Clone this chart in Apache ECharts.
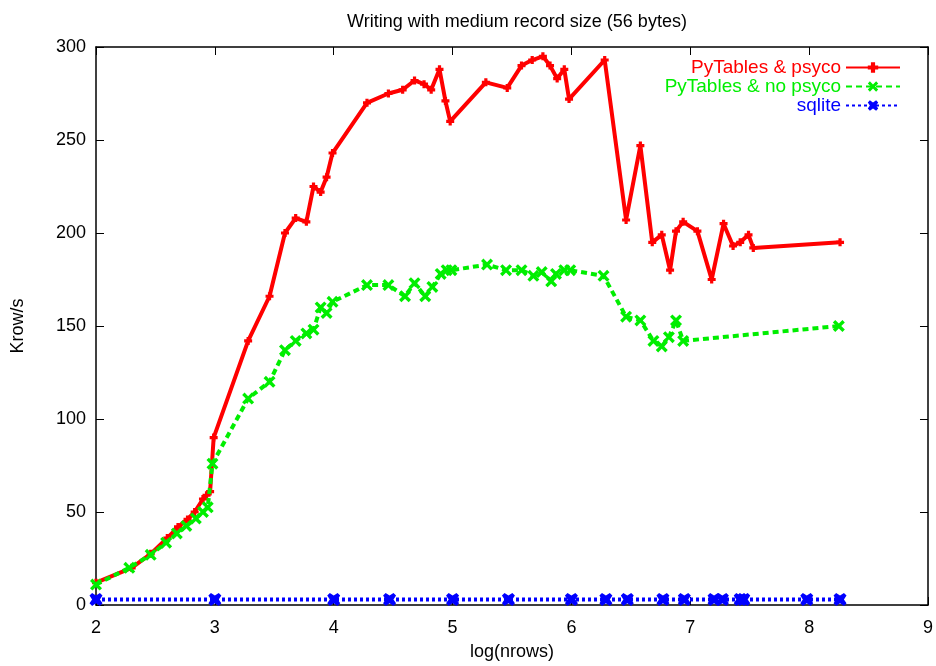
<!DOCTYPE html>
<html>
<head>
<meta charset="utf-8">
<script src="https://cdn.jsdelivr.net/npm/echarts@6/dist/echarts.min.js"></script>
<style>
  html, body { margin: 0; padding: 0; background: #fff; }
  #main { width: 936px; height: 666px; }
</style>
</head>
<body>
<div id="main"></div>
<script>
// log(nrows) / Krow/s
var psycoX = [2.0, 2.3, 2.46, 2.6, 2.69, 2.77, 2.83, 2.9, 2.93, 2.96, 2.99, 3.28, 3.46, 3.59, 3.68, 3.77, 3.83, 3.89, 3.94, 3.99,
  4.28, 4.46, 4.58, 4.68, 4.76, 4.82, 4.89, 4.94, 4.98, 5.28, 5.46, 5.58, 5.67, 5.76, 5.82, 5.88, 5.94, 5.98, 6.28,
  6.46, 6.58, 6.68, 6.76, 6.83, 6.88, 6.94, 7.06, 7.18, 7.28, 7.36, 7.42, 7.49, 7.53, 8.26]
var psycoY = [12, 20, 27.5, 36, 42, 46, 50, 57, 59, 61, 90, 142, 166, 200, 208, 206, 225, 222, 230, 243,
  270, 275, 277, 282, 280, 277, 288, 271, 260, 281, 278, 290, 293, 295, 290, 283, 288, 272, 293,
  207, 247, 195, 199, 180, 201, 206, 201, 175, 205, 193, 195, 199, 192, 195]

var noPsycoX = [2.0, 2.28, 2.46, 2.59, 2.68, 2.76, 2.84, 2.9, 2.94, 2.98, 3.28, 3.46, 3.59, 3.68, 3.77, 3.83, 3.89, 3.94, 3.99,
  4.28, 4.46, 4.6, 4.68, 4.77, 4.83, 4.9, 4.95, 4.99, 5.29, 5.45, 5.58, 5.68, 5.75, 5.83, 5.87, 5.94, 5.99, 6.27,
  6.46, 6.58, 6.69, 6.76, 6.82, 6.88, 6.94, 8.25]
var noPsycoY = [11, 20, 27, 33.5, 38.5, 42.5, 46.5, 50, 52.5, 76, 111, 120, 137, 142, 146, 148, 160, 157, 163,
  172, 172, 166, 173, 166, 171, 178, 180, 180, 183, 180, 180, 177, 179, 174, 178, 180, 180, 177,
  155, 153, 142, 139, 144, 153, 142, 150]

var sqliteX = [2.0, 3.0, 4.0, 4.47, 5.0, 5.47, 6.0, 6.29, 6.47, 6.77, 6.95, 7.2, 7.27, 7.42, 7.45, 7.98, 8.26]
var sqliteY = [3, 3, 3, 3, 3, 3, 3, 3, 3, 3, 3, 3, 3, 3, 3, 3, 3]

function pairs(xs, ys) {
  var out = []
  for (var i = 0; i < xs.length; i++) out.push([xs[i], ys[i]])
  return out
}

var FONT = 'Liberation Sans'
var plusPath = 'path://M3,0 L7,0 L7,3 L10,3 L10,7 L7,7 L7,10 L3,10 L3,7 L0,7 L0,3 L3,3 Z'
var xPath = 'path://M2,0 L5,3 L8,0 L10,2 L7,5 L10,8 L8,10 L5,7 L2,10 L0,8 L3,5 L0,2 Z'
var fatXPath = 'path://M2,0 L5,2 L8,0 L10,2 L8,5 L10,8 L8,10 L5,8 L2,10 L0,8 L2,5 L0,2 Z'

var chart = echarts.init(document.getElementById('main'))
var option = {
  backgroundColor: '#fff',
  animation: false,
  textStyle: { fontFamily: FONT },
  title: {
    text: 'Writing with medium record size (56 bytes)',
    left: 512,
    textAlign: 'center',
    top: 8,
    textStyle: { fontFamily: FONT, fontWeight: 'normal', fontSize: 18, color: '#000' }
  },
  legend: {
    orient: 'vertical',
    right: 30,
    top: 53,
    align: 'right',
    itemWidth: 54,
    itemHeight: 13,
    itemGap: 0,
    textStyle: { fontFamily: FONT, fontSize: 19 },
    data: [
      { name: 'PyTables & psyco', textStyle: { color: '#ff0000' } },
      { name: 'PyTables & no psyco', textStyle: { color: '#00ee00' } },
      { name: 'sqlite', textStyle: { color: '#0000ff' } }
    ]
  },
  grid: { left: 96, right: 5, top: 47, bottom: 57 },
  xAxis: [
    {
      type: 'value', min: 2, max: 9, interval: 1,
      name: 'log(nrows)', nameLocation: 'middle', nameGap: 38,
      nameTextStyle: { fontFamily: FONT, fontSize: 18, color: '#000' },
      axisLine: { onZero: false, lineStyle: { color: '#000', width: 1.5 } },
      axisTick: { inside: true, length: 8, lineStyle: { color: '#000' } },
      axisLabel: { fontFamily: FONT, fontSize: 18, color: '#000', margin: 14 },
      splitLine: { show: false }
    },
    {
      type: 'value', min: 2, max: 9, interval: 1, position: 'top',
      axisLine: { onZero: false, lineStyle: { color: '#000', width: 1.5 } },
      axisTick: { inside: true, length: 8, lineStyle: { color: '#000' } },
      axisLabel: { show: false },
      splitLine: { show: false }
    }
  ],
  yAxis: [
    {
      type: 'value', min: 0, max: 300, interval: 50,
      name: 'Krow/s', nameLocation: 'middle', nameGap: 69, nameRotate: 90,
      nameTextStyle: { fontFamily: FONT, fontSize: 18, color: '#000' },
      axisLine: { show: true, onZero: false, lineStyle: { color: '#000', width: 1.5 } },
      axisTick: { show: true, inside: true, length: 8, lineStyle: { color: '#000' } },
      axisLabel: { fontFamily: FONT, fontSize: 18, color: '#000', margin: 10 },
      splitLine: { show: false }
    },
    {
      type: 'value', min: 0, max: 300, interval: 50, position: 'right',
      axisLine: { show: true, onZero: false, lineStyle: { color: '#000', width: 1.5 } },
      axisTick: { show: true, inside: true, length: 8, lineStyle: { color: '#000' } },
      axisLabel: { show: false },
      splitLine: { show: false }
    }
  ],
  series: [
    {
      name: 'PyTables & psyco',
      type: 'line',
      data: pairs(psycoX, psycoY),
      symbol: plusPath,
      symbolSize: 8,
      itemStyle: { color: '#ff0000' },
      lineStyle: { color: '#ff0000', width: 4 },
      z: 3
    },
    {
      name: 'PyTables & no psyco',
      type: 'line',
      data: pairs(noPsycoX, noPsycoY),
      symbol: xPath,
      symbolSize: 12,
      itemStyle: { color: '#00ee00' },
      lineStyle: { color: '#00ee00', width: 4, type: [6, 4] },
      z: 4
    },
    {
      name: 'sqlite',
      type: 'line',
      data: pairs(sqliteX, sqliteY),
      symbol: fatXPath,
      symbolSize: 13,
      itemStyle: { color: '#0000ff' },
      lineStyle: { color: '#0000ff', width: 4, type: [3, 3] },
      z: 5
    }
  ]
}
chart.setOption(option)
</script>
</body>
</html>
